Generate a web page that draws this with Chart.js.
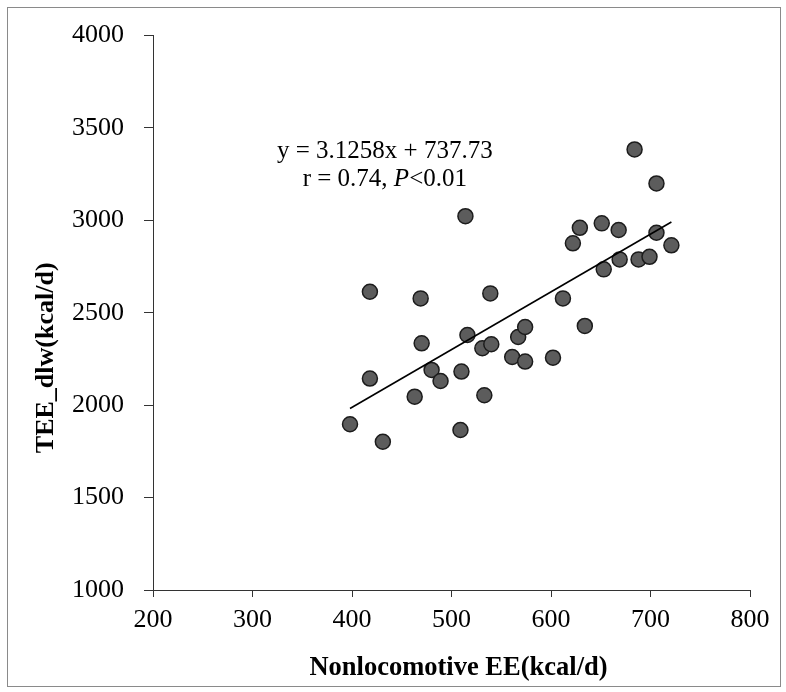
<!DOCTYPE html>
<html>
<head>
<meta charset="utf-8">
<script src="https://cdn.jsdelivr.net/npm/chart.js@4.4.1/dist/chart.umd.min.js"></script>
<style>
  html, body { margin: 0; padding: 0; background: #fff; }
  #wrap { width: 786px; height: 692px; }
</style>
</head>
<body>
<div id="wrap"><canvas id="teeChart" width="786" height="692"></canvas></div>
<script>
// values
const nonlocomotiveEE = [398, 418, 418, 431, 463, 469, 470, 480, 489, 510, 509, 514,
  516, 531, 533, 539, 540, 561, 567, 574, 574, 602, 612, 622, 629, 634, 651, 653,
  668, 669, 684, 688, 699, 706, 706, 721];
const teeDlw = [1897, 2614, 2144, 1802, 2046, 2578, 2335, 2191, 2131, 2182, 1866, 3023,
  2380, 2308, 2054, 2605, 2330, 2261, 2369, 2423, 2236, 2257, 2578, 2876, 2960, 2429,
  2984, 2735, 2948, 2789, 3384, 2789, 2803, 3200, 2933, 2865];

const xTicks = [200, 300, 400, 500, 600, 700, 800];
const yTicks = [1000, 1500, 2000, 2500, 3000, 3500, 4000];

// trendline from the printed equation
const slope = 3.1258;
const intercept = 737.73;
const eqText = 'y = 3.1258x + 737.73';
const statText = ['r = 0.74, ', 'P', '<0.01'];
const eqAnchor = { x: 433, y: 3338 };

const xTitle = 'Nonlocomotive EE(kcal/d)';
const yTitle = 'TEE_dlw(kcal/d)';

const serif = '"Liberation Serif", "Times New Roman", serif';

const points = nonlocomotiveEE.map((x, i) => ({ x: x, y: teeDlw[i] }));
const xMin = Math.min(...nonlocomotiveEE);
const xMax = Math.max(...nonlocomotiveEE);
const trend = [
  { x: xMin, y: slope * xMin + intercept },
  { x: xMax, y: slope * xMax + intercept }
];

const textPlugin = {
  id: 'textPlugin',
  beforeDraw(chart) {
    const ctx = chart.ctx;
    ctx.save();
    ctx.fillStyle = '#fff';
    ctx.fillRect(0, 0, chart.width, chart.height);
    ctx.strokeStyle = '#8a8a8a';
    ctx.lineWidth = 1;
    ctx.strokeRect(7.5, 7.5, chart.width - 13, chart.height - 13);
    ctx.restore();
  },
  afterDraw(chart) {
    const ctx = chart.ctx;
    const { x, y } = chart.scales;
    const area = chart.chartArea;
    ctx.save();
    ctx.fillStyle = '#000';

    // equation text
    const cx = x.getPixelForValue(eqAnchor.x);
    const cy = y.getPixelForValue(eqAnchor.y);
    ctx.font = '25px ' + serif;
    ctx.textAlign = 'center';
    ctx.textBaseline = 'alphabetic';
    ctx.fillText(eqText, cx, cy);

    const fonts = ['25px ' + serif, 'italic 25px ' + serif, '25px ' + serif];
    let total = 0;
    const widths = statText.map((t, i) => {
      ctx.font = fonts[i];
      const w = ctx.measureText(t).width;
      total += w;
      return w;
    });
    let sx = cx - total / 2;
    ctx.textAlign = 'left';
    statText.forEach((t, i) => {
      ctx.font = fonts[i];
      ctx.fillText(t, sx, cy + 28);
      sx += widths[i];
    });

    // axis titles
    ctx.font = 'bold 26.5px ' + serif;
    ctx.textAlign = 'center';
    ctx.fillText(xTitle, (area.left + area.right) / 2 + 7, 675);

    ctx.font = 'bold 26px ' + serif;
    ctx.translate(53, (area.top + area.bottom) / 2 + 45);
    ctx.rotate(-Math.PI / 2);
    ctx.fillText(yTitle, 0, 0);
    ctx.restore();
  }
};

new Chart(document.getElementById('teeChart'), {
  data: {
    datasets: [
      {
        type: 'line',
        label: 'trend',
        data: trend,
        borderColor: '#000',
        borderWidth: 1.6,
        pointRadius: 0,
        fill: false,
        order: 0
      },
      {
        type: 'scatter',
        label: 'TEE',
        data: points,
        pointRadius: 7.5,
        pointBackgroundColor: '#5c5c5c',
        pointBorderColor: '#1c1c1c',
        pointBorderWidth: 1.5,
        order: 1
      }
    ]
  },
  options: {
    responsive: false,
    animation: false,
    layout: { padding: { left: 0, top: 34, right: 36, bottom: 0 } },
    plugins: {
      legend: { display: false },
      tooltip: { enabled: false }
    },
    scales: {
      x: {
        type: 'linear',
        min: 200,
        max: 800,
        afterBuildTicks: s => { s.ticks = xTicks.map(v => ({ value: v })); },
        afterFit: s => { s.height = 102; },
        ticks: {
          color: '#000',
          padding: 8,
          font: { family: serif, size: 26 },
          callback: v => String(v)
        },
        grid: { drawOnChartArea: false, tickLength: 7, color: '#333', lineWidth: 1 },
        border: { color: '#333', width: 1 }
      },
      y: {
        type: 'linear',
        min: 1000,
        max: 4000,
        afterBuildTicks: s => { s.ticks = yTicks.map(v => ({ value: v })); },
        afterFit: s => { s.width = 153; },
        ticks: {
          color: '#000',
          padding: 20,
          font: { family: serif, size: 26 },
          callback: v => String(v)
        },
        grid: { drawOnChartArea: false, tickLength: 9, color: '#333', lineWidth: 1 },
        border: { color: '#333', width: 1 }
      }
    }
  },
  plugins: [textPlugin]
});
</script>
</body>
</html>
